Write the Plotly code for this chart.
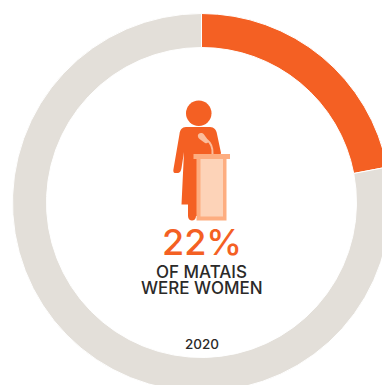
import plotly.graph_objects as go

# Share of matais who were women in 2020
categories = ["Women", "Men"]
shares = [22, 78]
slice_colors = ["#F46023", "#E3DFD9"]
headline = "22%"
caption_lines = ["OF MATAIS", "WERE WOMEN"]
year = "2020"

# Canvas is a little larger than the window so the ring bleeds off the right and bottom edges
W, H = 404, 404
CX, CY, R = 201.5, 202.5, 189.0
HOLE = 155.0 / R

ORANGE = "#F46023"
PODIUM_EDGE = "#FDAD80"
PODIUM_FACE = "#FDD3B8"
MIC = "#FBBD9C"
DARK = "#2B2A29"
FONT = "Inter, 'Open Sans', sans-serif"


def fx(x):
    return x / W


def fy(y):
    return 1 - y / H


def path(*cmds):
    """Build an SVG path in paper coordinates from pixel-style command tuples."""
    out = []
    for c in cmds:
        letter, pts = c[0], c[1:]
        out.append(letter + " " + " ".join(f"{fx(px):.5f},{fy(py):.5f}" for px, py in pts))
    return " ".join(out) + " Z"


def area(d, color):
    return dict(type="path", xref="paper", yref="paper", path=d,
                fillcolor=color, line=dict(width=0), layer="above")


def box(x0, y0, x1, y1, color):
    return dict(type="rect", xref="paper", yref="paper",
                x0=fx(x0), x1=fx(x1), y0=fy(y0), y1=fy(y1),
                fillcolor=color, line=dict(width=0), layer="above")


fig = go.Figure(go.Pie(
    labels=categories,
    values=shares,
    hole=HOLE,
    sort=False,
    direction="clockwise",
    rotation=0,
    textinfo="none",
    hoverinfo="label+percent",
    marker=dict(colors=slice_colors, line=dict(color="#FFFFFF", width=1)),
    domain=dict(x=[fx(CX - R), fx(CX + R)], y=[fy(CY + R), fy(CY - R)]),
    showlegend=False,
))

# Speaker at a lectern
shapes = [
    # head
    dict(type="circle", xref="paper", yref="paper",
         x0=fx(186), x1=fx(211.5), y0=fy(126), y1=fy(100.5),
         fillcolor=ORANGE, line=dict(width=0), layer="above"),
    # torso, arm and dress
    area(path(
        ("M", (186, 127)),
        ("C", (182, 127), (180, 130), (179.5, 134)),
        ("L", (173.5, 169)),
        ("C", (172.5, 174), (176, 173), (177, 173)),
        ("C", (180, 173), (181, 171), (181.5, 168)),
        ("L", (184, 152)),
        ("L", (181.5, 204.5)),
        ("L", (188, 204.5)),
        ("L", (188, 216)),
        ("C", (188, 222), (196, 222), (196, 216)),
        ("L", (200, 216)),
        ("L", (221, 153)),
        ("L", (217, 134)),
        ("C", (216.5, 130), (214, 127), (210, 127)),
    ), ORANGE),
    # lectern
    box(196.5, 158, 226.5, 220.5, PODIUM_EDGE),
    box(200.5, 158, 223, 216.5, PODIUM_FACE),
    box(193.5, 154, 230, 159, PODIUM_EDGE),
    # microphone stem and head
    dict(type="path", xref="paper", yref="paper",
         path=f"M {fx(207):.5f},{fy(140):.5f} "
              f"C {fx(211):.5f},{fy(143):.5f} {fx(213):.5f},{fy(147):.5f} {fx(212.5):.5f},{fy(154):.5f}",
         line=dict(color=MIC, width=2), layer="above"),
    dict(type="path", xref="paper", yref="paper",
         path=path(
             ("M", (198.5, 134)),
             ("C", (200.5, 132.5), (202.5, 133), (204, 134.5)),
             ("L", (208, 140)),
             ("C", (209, 142), (207.5, 144), (205, 143)),
             ("L", (199.5, 139)),
             ("C", (197.5, 137.5), (197.5, 135), (198.5, 134)),
         ),
         fillcolor=MIC, line=dict(width=0), layer="above"),
]


def label(text, y, size, color, weight=500, x=CX):
    return dict(text=text, xref="paper", yref="paper", x=fx(x), y=fy(y),
                xanchor="center", yanchor="middle", showarrow=False,
                font=dict(family=FONT, size=size, color=color, weight=weight))


annotations = [
    label(headline, 241.5, 36, ORANGE),
    label(caption_lines[0], 271.5, 17, DARK),
    label(caption_lines[1], 288, 17, DARK),
    label(year, 344, 13.5, DARK),
]

fig.update_layout(
    width=W, height=H,
    margin=dict(l=0, r=0, t=0, b=0, autoexpand=False),
    paper_bgcolor="#FFFFFF",
    shapes=shapes,
    annotations=annotations,
)

fig.write_html("out.html", config={"displayModeBar": False},
               post_script="document.documentElement.style.overflow='hidden';document.body.style.overflow='hidden';")
